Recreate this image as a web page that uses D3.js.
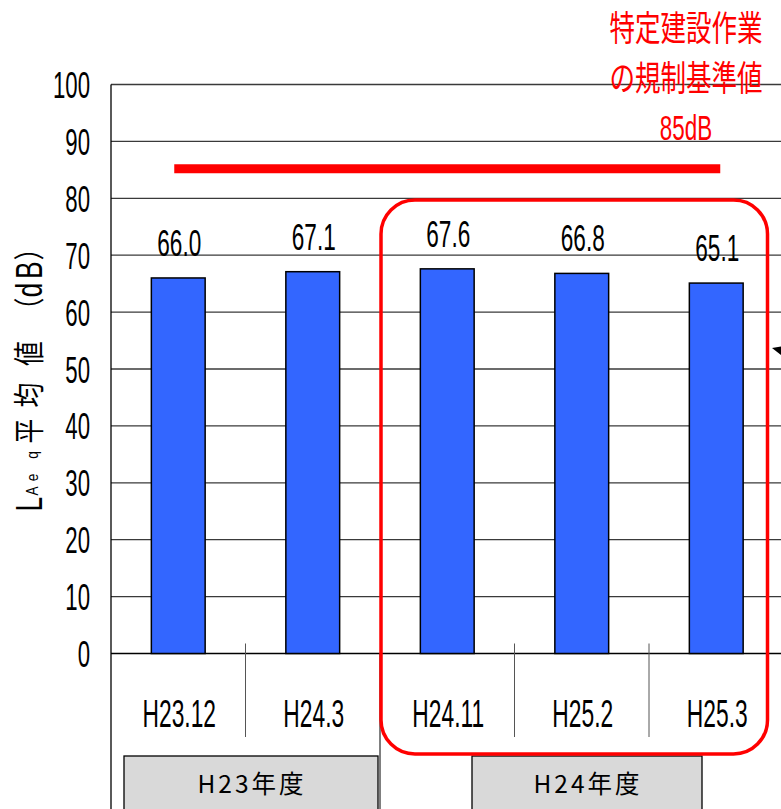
<!DOCTYPE html>
<html>
<head>
<meta charset="utf-8">
<script src="https://cdn.jsdelivr.net/npm/d3@7"></script>
<style>
  html, body { margin: 0; padding: 0; background: #ffffff; }
  svg { display: block; }
</style>
</head>
<body>
<svg id="chart" width="781" height="809"></svg>
<script>
// Survey periods and their LAeq averages (dB)
const categories = ["H23.12", "H24.3", "H24.11", "H25.2", "H25.3"];
const values = [66.0, 67.1, 67.6, 66.8, 65.1];
const valueLabels = ["66.0", "67.1", "67.6", "66.8", "65.1"];
const yTicks = [0, 10, 20, 30, 40, 50, 60, 70, 80, 90, 100];
const fiscalYears = ["H23年度", "H24年度"];
const fiscalMembers = [["H23.12", "H24.3"], ["H24.11", "H25.2", "H25.3"]];
const limitValue = 85;
const limitLines = ["特定建設作業", "の規制基準値", "85dB"];
const yTitleMain = ["L", "平", "均", "値", "（", "d", "B", "）"];
const yTitleSub = ["A", "e", "q"];

const svg = d3.select("#chart");
const W = 781, H = 809;
const plotLeft = 111, plotTop = 84.5, plotBottom = 653.5;
const step = 134.5;

const NUM_FONT = "'Liberation Sans', Arial, sans-serif";
const CJK_FONT = "'Noto Sans CJK JP', 'Noto Sans', sans-serif";

const x = d3.scaleBand()
  .domain(categories)
  .range([plotLeft, plotLeft + step * categories.length])
  .paddingInner(0).paddingOuter(0);
const y = d3.scaleLinear().domain([0, 100]).range([plotBottom, plotTop]);

const barW = x.bandwidth() * 0.4;

// Horizontally condensed text helper
function ctext(g, str, tx, ty, size, sx, anchor, fill, family) {
  return g.append("text")
    .attr("transform", `translate(${tx},${ty}) scale(${sx},1)`)
    .attr("text-anchor", anchor)
    .attr("font-family", family)
    .attr("font-size", size)
    .attr("fill", fill)
    .text(str);
}

// Gridlines
const grid = svg.append("g");
grid.selectAll("line")
  .data(yTicks)
  .join("line")
  .attr("x1", plotLeft).attr("x2", W)
  .attr("y1", d => y(d)).attr("y2", d => y(d))
  .attr("stroke", d => d === 0 ? "#000" : "#3a3a3a")
  .attr("stroke-width", 1.3);

// Y axis line (continues down through the category area)
svg.append("line")
  .attr("x1", plotLeft).attr("x2", plotLeft)
  .attr("y1", plotTop).attr("y2", H)
  .attr("stroke", "#000").attr("stroke-width", 1.3);

// Y tick labels
const yAxisG = svg.append("g");
yTicks.forEach(v => {
  ctext(yAxisG, String(v), 90, y(v) + 13.5, 37, 0.6, "end", "#000", NUM_FONT);
});

// Bars
svg.append("g").selectAll("rect")
  .data(values)
  .join("rect")
  .attr("x", (d, i) => x(categories[i]) + (x.bandwidth() - barW) / 2)
  .attr("y", d => y(d))
  .attr("width", barW)
  .attr("height", d => plotBottom - y(d))
  .attr("fill", "#3366ff")
  .attr("stroke", "#000")
  .attr("stroke-width", 1.5);

// Value labels above bars
const valG = svg.append("g");
values.forEach((v, i) => {
  ctext(valG, valueLabels[i], x(categories[i]) + x.bandwidth() / 2 + 1, y(v) - 22, 37, 0.61, "middle", "#000", NUM_FONT);
});

// Regulation limit line (85 dB)
const c0 = x(categories[0]) + x.bandwidth() / 2;
const cN = x(categories[categories.length - 1]) + x.bandwidth() / 2;
svg.append("line")
  .attr("x1", c0 - 4).attr("x2", cN + 4)
  .attr("y1", y(limitValue) - 1).attr("y2", y(limitValue) - 1)
  .attr("stroke", "#ff0000").attr("stroke-width", 9);

// Category separators
const sepG = svg.append("g");
categories.forEach((c, i) => {
  if (i === 0) return;
  const xs = x(c);
  const isGroupStart = fiscalMembers.some(m => m[0] === c);
  sepG.append("line")
    .attr("x1", xs).attr("x2", xs)
    .attr("y1", isGroupStart ? plotBottom : plotBottom - 10)
    .attr("y2", isGroupStart ? H : 737)
    .attr("stroke", isGroupStart ? "#000" : "#555")
    .attr("stroke-width", 1);
});

// Category labels
const catG = svg.append("g");
categories.forEach(c => {
  ctext(catG, c, x(c) + x.bandwidth() / 2 + 1, 727, 38, 0.6, "middle", "#000", NUM_FONT);
});

// Fiscal year boxes
const boxG = svg.append("g");
const boxSpans = [[13, -2], [92, -81.5]];
fiscalYears.forEach((label, i) => {
  const m = fiscalMembers[i];
  const gx0 = x(m[0]);
  const gx1 = x(m[m.length - 1]) + x.bandwidth();
  const bx0 = gx0 + boxSpans[i][0];
  const bx1 = gx1 + boxSpans[i][1];
  boxG.append("rect")
    .attr("x", bx0).attr("y", 756)
    .attr("width", bx1 - bx0).attr("height", 70)
    .attr("fill", "#d9d9d9")
    .attr("stroke", "#000").attr("stroke-width", 1.3);
  boxG.append("text")
    .attr("x", (bx0 + bx1) / 2 + 1).attr("y", 793)
    .attr("text-anchor", "middle")
    .attr("font-family", CJK_FONT)
    .attr("font-size", 24.5)
    .attr("letter-spacing", 3)
    .attr("fill", "#000")
    .text(label);
});

// Highlight frame around the H24 fiscal year periods
const h24 = fiscalMembers[1];
const fx0 = x(h24[0]) + 1;
const fx1 = x(h24[h24.length - 1]) + x.bandwidth() - 16;
svg.append("rect")
  .attr("x", fx0).attr("y", 200)
  .attr("width", fx1 - fx0).attr("height", 554)
  .attr("rx", 34).attr("ry", 34)
  .attr("fill", "none")
  .attr("stroke", "#ff0000")
  .attr("stroke-width", 3.5);

// Limit annotation text
const noteG = svg.append("g");
ctext(noteG, limitLines[0], 686, 41, 35, 0.73, "middle", "#ff0000", CJK_FONT);
ctext(noteG, limitLines[1], 686, 91, 35, 0.73, "middle", "#ff0000", CJK_FONT);
ctext(noteG, limitLines[2], 686, 140, 35, 0.64, "middle", "#ff0000", NUM_FONT);

// Clipped arrow tip at the right edge
svg.append("path")
  .attr("d", "M772,348 L781,346.5 L781,355 Z")
  .attr("fill", "#000");

// Rotated Y axis title: L(Aeq)平均値（dB）
const titleG = svg.append("g");
function rotGlyph(ch, cy, size, bx, sx, family) {
  titleG.append("text")
    .attr("transform", `translate(${bx},${cy}) rotate(-90) scale(${sx},1)`)
    .attr("text-anchor", "middle")
    .attr("font-family", family)
    .attr("font-size", size)
    .attr("fill", "#000")
    .text(ch);
}
rotGlyph(yTitleMain[0], 504, 37, 42, 0.7, NUM_FONT);
rotGlyph(yTitleSub[0], 491, 17, 38, 0.8, NUM_FONT);
rotGlyph(yTitleSub[1], 477.5, 17, 38, 0.8, NUM_FONT);
rotGlyph(yTitleSub[2], 455, 17, 38, 0.8, NUM_FONT);
rotGlyph(yTitleMain[1], 431, 31, 40, 0.8, CJK_FONT);
rotGlyph(yTitleMain[2], 395, 31, 40, 0.8, CJK_FONT);
rotGlyph(yTitleMain[3], 353.5, 31, 40, 0.8, CJK_FONT);
rotGlyph(yTitleMain[4], 310, 31, 40, 0.8, CJK_FONT);
rotGlyph(yTitleMain[5], 290, 37, 42, 0.7, NUM_FONT);
rotGlyph(yTitleMain[6], 270, 37, 42, 0.7, NUM_FONT);
rotGlyph(yTitleMain[7], 248, 31, 40, 0.8, CJK_FONT);
</script>
</body>
</html>
